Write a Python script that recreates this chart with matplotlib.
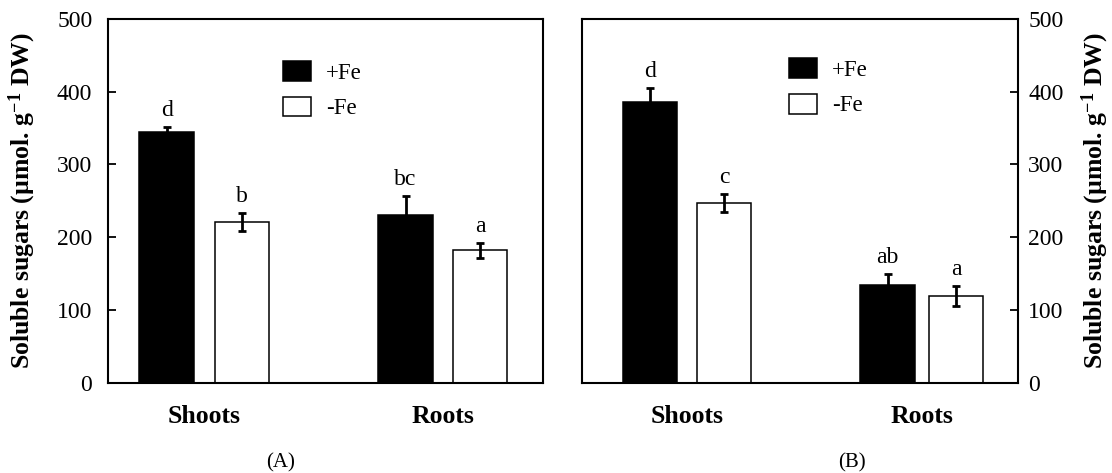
import matplotlib
matplotlib.use("Agg")
import matplotlib.pyplot as plt

plt.rcParams["font.family"] = ["Liberation Serif", "DejaVu Serif"]
plt.rcParams["mathtext.fontset"] = "custom"
plt.rcParams["mathtext.rm"] = "Liberation Serif"
plt.rcParams["mathtext.bf"] = "Liberation Serif:bold"
plt.rcParams["mathtext.default"] = "bf"

# data (umol g-1 DW)
organs = ["Shoots", "Roots"]
treatments = ["+Fe", "-Fe"]

a_plus_fe = [344, 231]
a_plus_fe_err = [8, 26]
a_minus_fe = [221, 182]
a_minus_fe_err = [12, 10]
a_letters_plus = ["d", "bc"]
a_letters_minus = ["b", "a"]

b_plus_fe = [386, 135]
b_plus_fe_err = [19, 14]
b_minus_fe = [247, 119]
b_minus_fe_err = [12, 14]
b_letters_plus = ["d", "ab"]
b_letters_minus = ["c", "a"]

yticks = [0, 100, 200, 300, 400, 500]
ylabel = "Soluble sugars (µmol. g$^{-1}$ DW)"


def draw_panel(ax, plus, plus_err, minus, minus_err, let_plus, let_minus,
               x_plus, x_minus, side, legend_xy):
    width = 0.5
    b1 = ax.bar(x_plus, plus, width, color="black", edgecolor="black",
                linewidth=1.1, label=treatments[0], zorder=2)
    b2 = ax.bar(x_minus, minus, width, color="white", edgecolor="black",
                linewidth=1.1, label=treatments[1], zorder=2)
    for xs, vals, errs in ((x_plus, plus, plus_err), (x_minus, minus, minus_err)):
        ax.errorbar(xs, vals, yerr=errs, fmt="none", ecolor="black",
                    elinewidth=2, capsize=3, capthick=2, zorder=3)
    for xs, vals, errs, lets in ((x_plus, plus, plus_err, let_plus),
                                 (x_minus, minus, minus_err, let_minus)):
        for x, v, e, t in zip(xs, vals, errs, lets):
            ax.text(x, v + e + 15, t, ha="center", va="baseline", fontsize=17)

    ax.set_xlim(0, 4)
    ax.set_ylim(0, 500)
    ax.set_yticks(yticks)
    centers = [(a + b) / 2 for a, b in zip(x_plus, x_minus)]
    ax.set_xticks(centers)
    ax.set_xticklabels(organs, fontsize=18.5, fontweight="bold")
    ax.tick_params(axis="x", length=0, pad=16)
    for s in ax.spines.values():
        s.set_linewidth(1.5)

    if side == "left":
        ax.tick_params(axis="y", direction="in", length=6, width=1.3,
                       pad=11.5, labelsize=17)
        ax.set_ylabel(ylabel, fontsize=18.5, fontweight="bold")
        ax.yaxis.set_label_coords(-0.162, 0.5)
    else:
        ax.yaxis.tick_right()
        ax.tick_params(axis="y", direction="in", length=6, width=1.3,
                       pad=7.5, labelsize=17, left=False, right=True)
        ax.yaxis.set_label_position("right")
        ax.set_ylabel(ylabel, fontsize=18.5, fontweight="bold", rotation=90)
        ax.yaxis.set_label_coords(1.141, 0.5)

    ax.legend(handles=[b1, b2], loc="upper left", bbox_to_anchor=legend_xy,
              frameon=False, borderpad=0, borderaxespad=0, fontsize=16.5,
              handlelength=1.22, handleheight=0.95, handletextpad=0.65,
              labelspacing=0.57)


fig = plt.figure(figsize=(11.12, 4.73), dpi=100)
ax_a = fig.add_axes([108.3 / 1112, 90.3 / 473, 435 / 1112, 363.7 / 473])
ax_b = fig.add_axes([581.7 / 1112, 90.3 / 473, 436 / 1112, 363.7 / 473])

draw_panel(ax_a, a_plus_fe, a_plus_fe_err, a_minus_fe, a_minus_fe_err,
           a_letters_plus, a_letters_minus,
           [0.536, 2.734], [1.231, 3.419], "left", (0.402, 0.885))
draw_panel(ax_b, b_plus_fe, b_plus_fe_err, b_minus_fe, b_minus_fe_err,
           b_letters_plus, b_letters_minus,
           [0.626, 2.806], [1.307, 3.436], "right", (0.475, 0.893))

fig.text(281 / 1112, 0.022, "(A)", ha="center", va="center", fontsize=15)
fig.text(852 / 1112, 0.022, "(B)", ha="center", va="center", fontsize=15)

fig.savefig("out.png", dpi=100)
plt.close(fig)
